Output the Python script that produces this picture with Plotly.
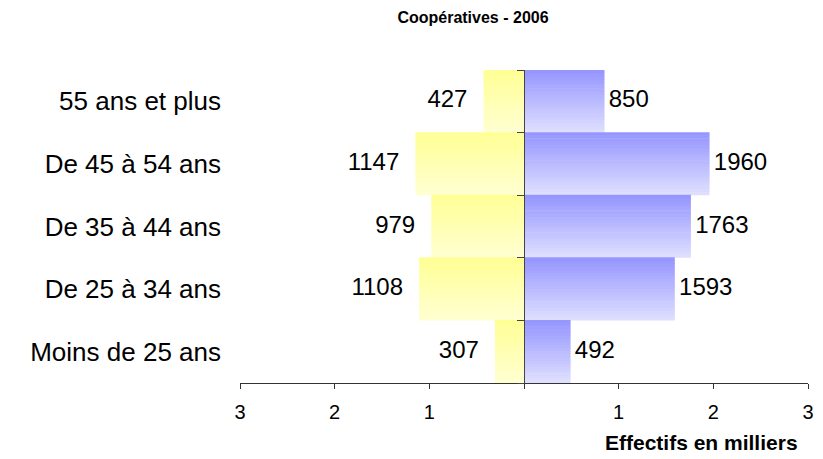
import plotly.graph_objects as go

categories = ["Moins de 25 ans", "De 25 à 34 ans", "De 35 à 44 ans", "De 45 à 54 ans", "55 ans et plus"]
left_values = [307, 1108, 979, 1147, 427]
right_values = [492, 1593, 1763, 1960, 850]
x_tick_vals = [-3000, -2000, -1000, 0, 1000, 2000, 3000]
x_tick_text = ["3", "2", "1", "", "1", "2", "3"]
title_text = "<b>Coopératives - 2006</b>"
x_title = "<b>Effectifs en milliers</b>"

def lerp(c1, c2, t):
    return "rgb(%d,%d,%d)" % tuple(round(a + (b - a) * t) for a, b in zip(c1, c2))

FONT = "Liberation Sans, Arial"
fig = go.Figure()
N = 20
yel_top, yel_bot = (255, 255, 150), (255, 255, 208)
blu_top, blu_bot = (150, 150, 255), (222, 222, 255)
for i in range(N):
    t = i / (N - 1)
    off = -0.5 + i / N
    w = 1.0 / N * 1.15
    fig.add_trace(go.Bar(y=categories, x=[-v for v in left_values], orientation="h",
                         marker=dict(color=lerp(yel_bot, yel_top, t), line_width=0),
                         offset=off, width=w, showlegend=False, hoverinfo="skip"))
    fig.add_trace(go.Bar(y=categories, x=right_values, orientation="h",
                         marker=dict(color=lerp(blu_bot, blu_top, t), line_width=0),
                         offset=off, width=w, showlegend=False, hoverinfo="skip"))

fig.add_trace(go.Scatter(y=categories, x=[-v - 170 for v in left_values], mode="text",
                         text=[str(v) for v in left_values], textposition="middle left",
                         textfont=dict(size=24, color="black", family=FONT),
                         showlegend=False, hoverinfo="skip"))
fig.add_trace(go.Scatter(y=categories, x=[v + 45 for v in right_values], mode="text",
                         text=[str(v) for v in right_values], textposition="middle right",
                         textfont=dict(size=24, color="black", family=FONT),
                         showlegend=False, hoverinfo="skip"))
# dummy trace for the central axis
fig.add_trace(go.Scatter(y=categories, x=[0] * len(categories), yaxis="y2", mode="markers",
                         marker=dict(opacity=0), showlegend=False, hoverinfo="skip"))

fig.update_layout(
    width=823, height=459,
    margin=dict(l=232, r=23, t=62, b=84),
    paper_bgcolor="white", plot_bgcolor="white",
    barmode="overlay",
    font=dict(family=FONT, color="black"),
    title=dict(text=title_text, x=0.565, xanchor="center", y=0.980, yanchor="middle",
               font=dict(size=16, color="black")),
    xaxis=dict(range=[-3000, 3000], tickvals=x_tick_vals, ticktext=x_tick_text,
               showgrid=False, zeroline=False, showline=True, linecolor="#333", linewidth=1,
               ticks="outside", ticklen=5, tickcolor="#333", tickfont=dict(size=20),
               ticklabelstandoff=6),
    yaxis=dict(range=[-0.5, 4.5], showgrid=False, zeroline=False, showline=False,
               ticks="", tickfont=dict(size=26), ticklabelstandoff=18),
    yaxis2=dict(range=[-0.5, 4.5], overlaying="y", anchor="free", position=0.5, side="left",
                showgrid=False, zeroline=False, showline=True, linecolor="#444", linewidth=1,
                showticklabels=False, ticks="outside", tickson="boundaries", ticklen=7,
                tickcolor="#444", type="category"),
    annotations=[dict(text=x_title, xref="paper", yref="paper", x=0.986, y=-0.19,
                      xanchor="right", yanchor="middle", showarrow=False,
                      font=dict(size=21, color="black"))],
)
fig.write_html("out.html")
